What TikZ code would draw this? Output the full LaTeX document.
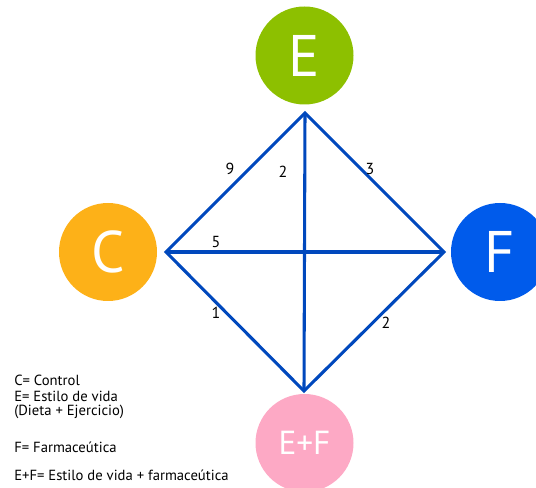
\documentclass[tikz,border=0pt]{standalone}
\usepackage{fontspec}
\setmainfont{PT Sans}
\usepackage{tikz}
\usetikzlibrary{positioning}
\definecolor{edgeBlue}{HTML}{0048BD}
\definecolor{lifeGreen}{HTML}{8DC000}
\definecolor{ctrlOrange}{HTML}{FDB118}
\definecolor{pharmBlue}{HTML}{005BEB}
\definecolor{comboPink}{HTML}{FDA9C5}

\tikzset{
  groupdot/.style={circle,minimum size=73.5pt,inner sep=0pt,text=white,
    font=\fontsize{44}{44}\selectfont},
  edgeline/.style={edgeBlue,line width=2.3pt,line join=miter},
  weight/.style={font=\fontsize{12}{12}\selectfont},
  legend/.style={anchor=west,inner sep=0pt,font=\fontsize{11}{12}\selectfont}
}

\begin{document}
\begin{tikzpicture}[x=0.75pt,y=-0.75pt]
    \useasboundingbox (0,0) rectangle (536,488);
    % groups
    \node[groupdot,fill=lifeGreen] (E) at (304.5,55.5) {E};
    \node[groupdot,fill=ctrlOrange] (C) at (108,252) {C};
    \node[groupdot,fill=pharmBlue] (F) at (500,252) {F};
    \node[groupdot,fill=comboPink,font=\fontsize{25}{25}\selectfont] (EF) at (304.5,443) {E+F};
    % corners of the diamond
    \coordinate (top) at (305,113);
    \coordinate (lft) at (166,252);
    \coordinate (rgt) at (444,252);
    \coordinate (bot) at (304,391);
    \draw[edgeline] (top) -- (rgt) -- (bot) -- (lft) -- cycle;
    \draw[edgeline] (top) -- (bot);
    \draw[edgeline] (lft) -- (rgt);
    % weights
    \node[weight] (w9) at (230,169) {9};
    \node[weight] (w2a) at (283,172) {2};
    \node[weight] (w3) at (370,169) {3};
    \node[weight] (w5) at (216,242) {5};
    \node[weight] (w1) at (216,313) {1};
    \node[weight] (w2b) at (386,323) {2};
    % legend
    \node[legend] (lc) at (14,380) {C= Control};
    \node[legend] (le) at (14,396) {E= Estilo de vida};
    \node[legend] (ld) at (14,412) {(Dieta + Ejercicio)};
    \node[legend] (lf) at (14,447) {F= Farmaceútica};
    \node[legend] (lef) at (14,475) {E+F= Estilo de vida + farmaceútica};
  \end{tikzpicture}
\end{document}
